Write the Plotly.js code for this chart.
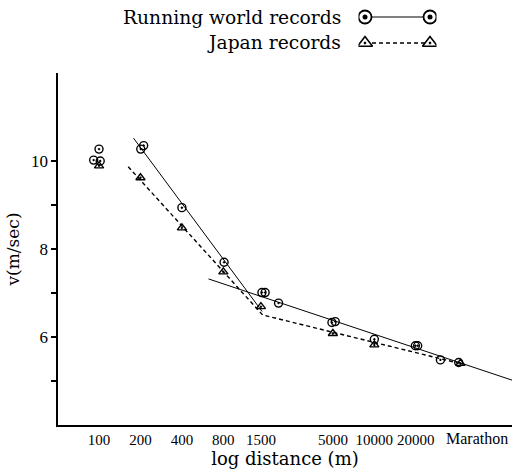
<!DOCTYPE html>
<html><head><meta charset="utf-8">
<script src="https://cdn.plot.ly/plotly-3.0.1.min.js"></script>
<style>html,body{margin:0;padding:0;background:#fff}</style>
</head><body><div id="chart" style="width:512px;height:476px"></div>
<script>
// World records (circles)
const worldDist  = [91.4, 100, 102, 201, 211, 400, 810, 1525, 1609, 2014, 4920, 5200, 10000, 19860, 20650, 30200, 41000];
const worldSpeed = [10.02, 10.27, 10.00, 10.27, 10.35, 8.94, 7.70, 7.01, 7.01, 6.77, 6.33, 6.35, 5.95, 5.80, 5.80, 5.48, 5.42];
// Japan records (triangles)
const japanDist  = [100, 200, 400, 800, 1500, 5000, 10000, 42195];
const japanSpeed = [9.89, 9.62, 8.48, 7.48, 6.69, 6.08, 5.82, 5.40];
// fitted lines
const worldFitShortDist  = [178, 1530];
const worldFitShortSpeed = [10.52, 6.58];
const worldFitLongDist   = [624, 100000];
const worldFitLongSpeed  = [7.32, 5.02];
const japanFitDist  = [163, 1545, 40500];
const japanFitSpeed = [9.87, 6.50, 5.41];
// ticks
const tickDist   = [100, 200, 400, 800, 1500, 5000, 10000, 20000, 42195];
const tickLabels = ['100', '200', '400', '800', '1500', '5000', '10000', '20000', ''];
const marathonDist = 42195;
const marathonLabel = 'Marathon';
const speedTicks = [5, 6, 7, 8, 9, 10];
const speedTickLabels = ['', '6', '', '8', '', '10'];
// legend
const legendNames = ['Running world records', 'Japan records'];
const legendKeyX = [0, 1];
const legendRowY = [1, 0];

const serif = '"DejaVu Serif", "Liberation Serif", serif';
const numFont = '"Liberation Serif", "DejaVu Serif", serif';
const plotH = 476 - 51;
const yTopFrac = (plotH - 73) / plotH;

const traces = [
  {x: worldFitShortDist, y: worldFitShortSpeed, mode: 'lines', line: {color: '#000', width: 1}, hoverinfo: 'skip'},
  {x: worldFitLongDist, y: worldFitLongSpeed, mode: 'lines', line: {color: '#000', width: 1}, hoverinfo: 'skip'},
  {x: japanFitDist, y: japanFitSpeed, mode: 'lines', line: {color: '#000', width: 1.4, dash: '4px,3px'}, hoverinfo: 'skip'},
  {x: worldDist, y: worldSpeed, mode: 'markers', name: legendNames[0],
   marker: {symbol: 'circle-dot', size: 8, color: 'rgba(255,255,255,0)', line: {color: '#000', width: 1.4}}},
  {x: japanDist, y: japanSpeed, mode: 'markers', name: legendNames[1],
   marker: {symbol: 'triangle-up-dot', size: 8, color: 'rgba(255,255,255,0)', line: {color: '#000', width: 1.4}}},
  // legend keys
  {x: legendKeyX, y: [legendRowY[0], legendRowY[0]], xaxis: 'x2', yaxis: 'y2', mode: 'lines+markers',
   line: {color: '#000', width: 1}, marker: {symbol: 'circle', size: 13, color: '#fff', line: {color: '#000', width: 1.8}}, hoverinfo: 'skip'},
  {x: legendKeyX, y: [legendRowY[0], legendRowY[0]], xaxis: 'x2', yaxis: 'y2', mode: 'markers',
   marker: {symbol: 'circle', size: 5, color: '#000'}, hoverinfo: 'skip'},
  {x: legendKeyX, y: [legendRowY[1], legendRowY[1]], xaxis: 'x2', yaxis: 'y2', mode: 'lines+markers',
   line: {color: '#000', width: 1.5, dash: '4px,3px'}, marker: {symbol: 'triangle-up-dot', size: 13, color: '#fff', line: {color: '#000', width: 1.6}}, hoverinfo: 'skip'}
];

const layout = {
  width: 512, height: 476,
  margin: {l: 58, r: 0, t: 0, b: 51, pad: 0},
  paper_bgcolor: '#fff', plot_bgcolor: '#fff',
  showlegend: false,
  font: {family: serif, color: '#000', size: 16},
  xaxis: {
    type: 'log', range: [1.702, 5.0], tickvals: tickDist, ticktext: tickLabels, tickangle: 0,
    showline: true, linecolor: '#000', linewidth: 1.6, showgrid: false, zeroline: false,
    ticks: '', tickfont: {family: numFont, size: 15, color: '#000'},
    title: {text: 'log distance (m)', font: {family: serif, size: 18, color: '#000'}, standoff: 6},
    automargin: false, anchor: 'y'
  },
  yaxis: {
    domain: [0, yTopFrac], range: [4, 12], tickvals: speedTicks, ticktext: speedTickLabels,
    showline: true, linecolor: '#000', linewidth: 1.6, showgrid: false, zeroline: false,
    ticks: 'outside', ticklen: 5, tickwidth: 1.4, tickcolor: '#000',
    tickfont: {family: numFont, size: 17, color: '#000'},
    title: {text: 'v(m/sec)', font: {family: serif, size: 17, color: '#000'}, standoff: 7},
    automargin: true, anchor: 'x'
  },
  xaxis2: {domain: [0.6619, 0.8337], range: [-0.1, 1.1], visible: false, anchor: 'y2'},
  yaxis2: {domain: [(plotH - 56) / plotH, (plotH - 4) / plotH], range: [-0.5, 1.5], visible: false, anchor: 'x2'},
  annotations: [
    {xref: 'paper', yref: 'paper', x: (343 - 58) / 454, y: (plotH - 17) / plotH, xanchor: 'right', yanchor: 'middle', showarrow: false,
     text: legendNames[0], font: {family: serif, size: 18.7, color: '#000'}},
    {xref: 'paper', yref: 'paper', x: (343 - 58) / 454, y: (plotH - 42) / plotH, xanchor: 'right', yanchor: 'middle', showarrow: false,
     text: legendNames[1], font: {family: serif, size: 18.7, color: '#000'}},
    {xref: 'x', yref: 'paper', x: Math.log10(marathonDist), y: -13 / plotH, xshift: 17, xanchor: 'center', yanchor: 'middle', showarrow: false,
     text: marathonLabel, font: {family: numFont, size: 16, color: '#000'}}
  ]
};

Plotly.newPlot('chart', traces, layout, {displayModeBar: false, staticPlot: true});
</script>
</body></html>
